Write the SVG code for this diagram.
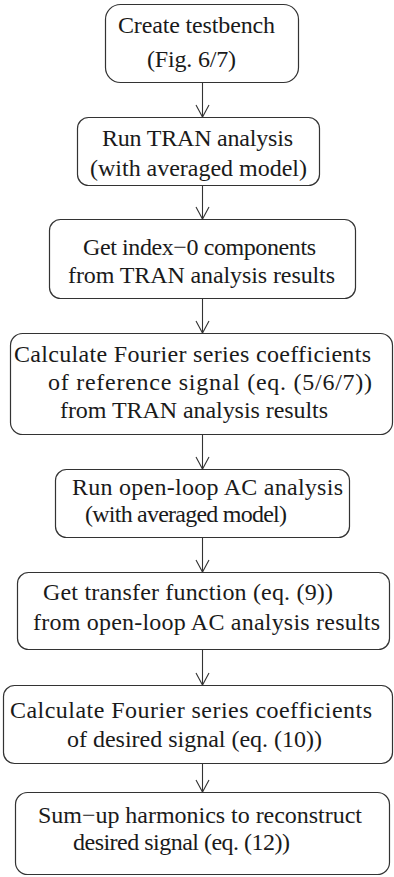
<svg xmlns="http://www.w3.org/2000/svg" width="394" height="877" viewBox="0 0 394 877">
<style>
.box{fill:#fff;stroke:#333;stroke-width:1.2}
.t{font-family:"Liberation Serif","Times New Roman",serif;font-size:24px;fill:#1a1a1a}
.c{stroke:#333;stroke-width:1.1;fill:none}
</style>
<defs>
<marker id="arr" markerUnits="userSpaceOnUse" markerWidth="16" markerHeight="16" viewBox="-13 -8 15 16" refX="0" refY="0" orient="auto">
<path d="M-12,-6.5 L0,0 L-12,6.5" fill="none" stroke="#333" stroke-width="1.1"/>
</marker>
</defs>
<rect width="394" height="877" fill="#fff"/>
<g id="connectors">
<line class="c" x1="202.5" y1="83" x2="202.5" y2="117" marker-end="url(#arr)"/>
<line class="c" x1="202.5" y1="186" x2="202.5" y2="219" marker-end="url(#arr)"/>
<line class="c" x1="202.5" y1="299" x2="202.5" y2="333" marker-end="url(#arr)"/>
<line class="c" x1="202.5" y1="435" x2="202.5" y2="469" marker-end="url(#arr)"/>
<line class="c" x1="202.5" y1="538" x2="202.5" y2="572" marker-end="url(#arr)"/>
<line class="c" x1="202.5" y1="650" x2="202.5" y2="685" marker-end="url(#arr)"/>
<line class="c" x1="202.5" y1="764" x2="202.5" y2="792" marker-end="url(#arr)"/>
</g>
<g id="n1">
<rect class="box" x="105.5" y="4.5" width="193" height="78" rx="15"/>
<text class="t" x="118" y="33" textLength="157" lengthAdjust="spacing">Create testbench</text>
<text class="t" x="147" y="67" textLength="89" lengthAdjust="spacing">(Fig. 6/7)</text>
</g>
<g id="n2">
<rect class="box" x="77.5" y="117.5" width="242" height="68" rx="11"/>
<text class="t" x="102" y="146" textLength="191" lengthAdjust="spacing">Run TRAN analysis</text>
<text class="t" x="90" y="176" textLength="217" lengthAdjust="spacing">(with averaged model)</text>
</g>
<g id="n3">
<rect class="box" x="49.5" y="219.5" width="306" height="79" rx="11"/>
<text class="t" x="83" y="255" textLength="233" lengthAdjust="spacing">Get index−0 components</text>
<text class="t" x="68" y="283" textLength="267" lengthAdjust="spacing">from TRAN analysis results</text>
</g>
<g id="n4">
<rect class="box" x="10.5" y="333.5" width="382" height="101" rx="12"/>
<text class="t" x="14" y="362" textLength="357" lengthAdjust="spacing">Calculate Fourier series coefficients</text>
<text class="t" x="48" y="390" textLength="324" lengthAdjust="spacing">of reference signal (eq. (5/6/7))</text>
<text class="t" x="60" y="418" textLength="268" lengthAdjust="spacing">from TRAN analysis results</text>
</g>
<g id="n5">
<rect class="box" x="55.5" y="469.5" width="294" height="68" rx="11"/>
<text class="t" x="72" y="495" textLength="271" lengthAdjust="spacing">Run open-loop AC analysis</text>
<text class="t" x="85" y="522" textLength="202" lengthAdjust="spacing">(with averaged model)</text>
</g>
<g id="n6">
<rect class="box" x="17.5" y="572.5" width="372" height="77" rx="11"/>
<text class="t" x="43" y="600" textLength="290" lengthAdjust="spacing">Get transfer function (eq. (9))</text>
<text class="t" x="33" y="630" textLength="347" lengthAdjust="spacing">from open-loop AC analysis results</text>
</g>
<g id="n7">
<rect class="box" x="3.5" y="685.5" width="389" height="78" rx="11"/>
<text class="t" x="10" y="718" textLength="362" lengthAdjust="spacing">Calculate Fourier series coefficients</text>
<text class="t" x="67" y="747" textLength="255" lengthAdjust="spacing">of desired signal (eq. (10))</text>
</g>
<g id="n8">
<rect class="box" x="15.5" y="792.5" width="374" height="82" rx="12"/>
<text class="t" x="38" y="823" textLength="324" lengthAdjust="spacing">Sum−up harmonics to reconstruct</text>
<text class="t" x="73" y="850" textLength="217" lengthAdjust="spacing">desired signal (eq. (12))</text>
</g>
</svg>
